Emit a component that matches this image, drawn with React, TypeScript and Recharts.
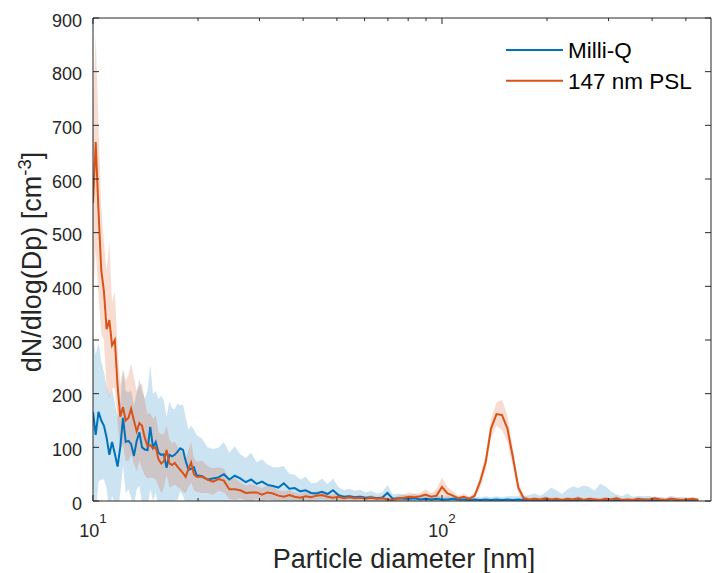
import React from 'react';
import { ComposedChart, Area, Line, XAxis, YAxis } from 'recharts';

// Particle diameter bins [nm]
const diameters = [
  10.0, 10.18, 10.37, 10.56, 10.75, 10.94, 11.14, 11.34, 11.55, 11.76,
  11.97, 12.19, 12.41, 12.64, 12.86, 13.1, 13.34, 13.58, 13.82, 14.07,
  14.33, 14.59, 14.86, 15.13, 15.4, 15.68, 15.96, 16.25, 16.55, 16.85,
  17.15, 17.47, 17.78, 18.11, 18.43, 18.77, 19.11, 19.46, 19.81,
  20.54, 21.29, 22.07, 22.88, 23.71, 24.58, 25.48, 26.42, 27.38, 28.39,
  29.43, 30.5, 31.62, 32.78, 33.98, 35.22, 36.52, 37.85, 39.24, 40.67,
  42.17, 43.71, 45.31, 46.97, 48.7, 50.48, 52.33, 54.25, 56.23, 58.29,
  60.43, 62.64, 64.94, 67.32, 69.78, 72.34, 74.99, 77.74, 80.58, 83.54,
  86.6, 89.77, 93.06, 96.47, 100.0, 103.7, 107.5, 111.4, 115.5, 119.7,
  124.1, 128.6, 133.4, 138.2, 143.3, 148.6, 154.0, 159.6, 165.5, 171.5,
  177.8, 184.3, 191.1, 198.1, 205.4, 212.9, 220.7, 228.8, 237.1, 245.8,
  254.8, 264.2, 273.8, 283.9, 294.3, 305.0, 316.2, 327.8, 339.8, 352.2,
  365.2, 378.5, 392.4, 406.7, 421.7, 437.1, 453.1, 469.7, 487.0, 504.8,
  523.3, 542.5,
];

// Milli-Q mean and standard deviation [cm^-3]
const milliQ = [
  166, 123, 166, 150, 140, 118, 86, 110, 88, 64,
  100, 155, 110, 112, 106, 84, 112, 128, 100, 96,
  95, 138, 100, 110, 90, 86, 87, 62, 86, 83,
  86, 92, 98, 95, 75, 58, 60, 63, 48,
  46, 40, 42, 44, 50, 40, 47, 42, 35, 40,
  32, 36, 30, 28, 25, 33, 23, 24, 18, 20,
  15, 14, 17, 13, 20, 11, 8, 9, 7, 8,
  6, 7, 5, 6, 15, 4, 5, 4, 4, 5,
  3, 4, 3, 4, 3, 3, 4, 3, 3, 2,
  3, 2, 3, 2, 3, 2, 3, 2, 3, 2,
  1, 2, 1, 2, 1, 2, 1, 2, 1, 2,
  1, 2, 1, 2, 1, 2, 2, 1, 2, 1,
  2, 3, 2, 1, 2, 1, 3, 2, 2, 1,
  2, 1,
];
const milliQSd = [
  140, 150, 130, 110, 100, 95, 110, 100, 95, 90,
  85, 90, 95, 90, 100, 95, 90, 100, 105, 95,
  110, 115, 100, 95, 100, 110, 100, 95, 100, 90,
  85, 90, 80, 85, 80, 75, 80, 70, 75,
  70, 60, 55, 55, 60, 50, 55, 45, 45, 50,
  40, 42, 38, 35, 38, 32, 28, 25, 22, 25,
  18, 20, 25, 18, 22, 15, 12, 14, 12, 13,
  10, 12, 9, 10, 15, 8, 9, 8, 7, 8,
  6, 7, 6, 7, 5, 6, 5, 6, 5, 6,
  5, 5, 6, 5, 6, 5, 6, 7, 6, 8,
  10, 12, 9, 14, 24, 18, 12, 20, 26, 22,
  28, 24, 18, 30, 26, 16, 10, 8, 12, 7,
  8, 6, 8, 5, 6, 5, 7, 5, 6, 5,
  4, 4,
];

// 147 nm PSL mean and standard deviation [cm^-3]
const psl = [
  555, 669, 540, 430, 390, 320, 337, 290, 300, 215,
  157, 175, 150, 155, 172, 150, 130, 145, 140, 118,
  102, 104, 98, 100, 78, 70, 74, 95, 70, 67,
  71, 64, 58, 52, 45, 60, 72, 50, 45,
  45, 40, 36, 41, 38, 22, 22, 20, 15, 16,
  16, 12, 16, 14, 10, 8, 11, 8, 6, 9,
  7, 10, 11, 8, 6, 8, 5, 7, 5, 6,
  4, 6, 4, 5, 3, 2, 5, 6, 8, 7,
  9, 12, 8, 10, 26, 14, 10, 5, 8, 4,
  10, 36, 72, 135, 162, 160, 135, 82, 25, 5,
  3, 4, 3, 5, 3, 4, 2, 4, 3, 5,
  2, 4, 3, 2, 4, 3, 5, 2, 3, 2,
  4, 2, 3, 5, 3, 2, 4, 3, 2, 3,
  4, 2,
];
const pslSd = [
  180, 200, 160, 120, 90, 110, 145, 80, 90, 70,
  60, 70, 75, 80, 85, 80, 75, 70, 80, 70,
  60, 60, 55, 60, 50, 55, 50, 45, 45, 40,
  40, 38, 35, 35, 30, 35, 38, 30, 28,
  30, 25, 25, 22, 22, 18, 20, 15, 14, 15,
  12, 12, 13, 12, 10, 10, 9, 8, 7, 8,
  7, 8, 8, 7, 6, 6, 5, 5, 5, 5,
  4, 5, 4, 5, 4, 4, 5, 6, 8, 7,
  6, 10, 7, 12, 18, 12, 8, 5, 6, 4,
  6, 12, 15, 18, 22, 28, 25, 18, 12, 5,
  3, 3, 3, 4, 3, 3, 3, 3, 3, 4,
  3, 3, 3, 3, 3, 3, 4, 3, 3, 3,
  3, 3, 3, 4, 3, 3, 3, 3, 3, 3,
  3, 3,
];

const xTicks = [10, 20, 30, 40, 50, 60, 70, 80, 90, 100, 200, 300, 400, 500];
const xMajor: Record<number, string> = { 10: '1', 100: '2' };
const yTicks = [0, 100, 200, 300, 400, 500, 600, 700, 800, 900];
const seriesNames = ['Milli-Q', '147 nm PSL'];

const BLUE = '#0072BD';
const ORANGE = '#D95319';
const AXIS = '#262626';
const FONT = '"Liberation Sans", Arial, Helvetica, sans-serif';

const data = diameters.map((d, k) => ({
  d,
  mq: milliQ[k],
  mqBand: [milliQ[k] - milliQSd[k], milliQ[k] + milliQSd[k]],
  psl: psl[k],
  pslBand: [psl[k] - pslSd[k], psl[k] + pslSd[k]],
}));

const BottomTick = (p: any) => {
  const { x, y, payload } = p;
  const v = payload.value;
  const major = xMajor[v] !== undefined;
  return (
    <g>
      <line x1={x} y1={y} x2={x} y2={y - (major ? 6 : 3)} stroke={AXIS} strokeWidth={1} />
      {major && (
        <text x={x} y={y + 35.5} textAnchor="middle" fontSize={18} fill={AXIS} fontFamily={FONT}>
          <tspan>10</tspan>
          <tspan dy={-14} fontSize={13.5}>{xMajor[v]}</tspan>
        </text>
      )}
    </g>
  );
};

const TopTick = (p: any) => {
  const { x, y, payload } = p;
  const major = xMajor[payload.value] !== undefined;
  return <line x1={x} y1={y} x2={x} y2={y + (major ? 6 : 3)} stroke={AXIS} strokeWidth={1} />;
};

const LeftTick = (p: any) => {
  const { x, y, payload } = p;
  return (
    <g>
      <line x1={x} y1={y} x2={x + 6} y2={y} stroke={AXIS} strokeWidth={1} />
      <text x={x - 11} y={y + 8.5} textAnchor="end" fontSize={18} fill={AXIS} fontFamily={FONT}>
        {payload.value}
      </text>
    </g>
  );
};

const RightTick = (p: any) => {
  const { x, y } = p;
  return <line x1={x} y1={y} x2={x - 6} y2={y} stroke={AXIS} strokeWidth={1} />;
};

export default function App() {
  return (
    <div
      style={{
        position: 'fixed',
        left: 0,
        top: 0,
        width: 712,
        height: 573,
        background: '#fff',
        overflow: 'hidden',
      }}
    >
      <ComposedChart width={712} height={573} data={data} margin={{ top: 17, right: 0, bottom: 0, left: 0 }}>
        <XAxis
          xAxisId="b"
          dataKey="d"
          type="number"
          scale="log"
          domain={[10, 590]}
          allowDataOverflow
          ticks={xTicks}
          interval={0}
          height={72}
          tickSize={0}
          tickMargin={0}
          tickLine={false}
          axisLine={{ stroke: AXIS, strokeWidth: 1 }}
          tick={BottomTick}
        />
        <XAxis
          xAxisId="t"
          orientation="top"
          dataKey="d"
          type="number"
          scale="log"
          domain={[10, 590]}
          allowDataOverflow
          ticks={xTicks}
          interval={0}
          height={1}
          tickSize={0}
          tickMargin={0}
          tickLine={false}
          axisLine={{ stroke: AXIS, strokeWidth: 1 }}
          tick={TopTick}
        />
        <YAxis
          yAxisId="l"
          type="number"
          domain={[0, 900]}
          allowDataOverflow
          ticks={yTicks}
          interval={0}
          width={93}
          tickSize={0}
          tickMargin={0}
          tickLine={false}
          axisLine={{ stroke: AXIS, strokeWidth: 1 }}
          tick={LeftTick}
        />
        <YAxis
          yAxisId="r"
          orientation="right"
          type="number"
          domain={[0, 900]}
          allowDataOverflow
          ticks={yTicks}
          interval={0}
          width={1}
          tickSize={0}
          tickMargin={0}
          tickLine={false}
          axisLine={{ stroke: AXIS, strokeWidth: 1 }}
          tick={RightTick}
        />
        <Area
          xAxisId="b"
          yAxisId="l"
          type="linear"
          dataKey="mqBand"
          stroke="none"
          fill={BLUE}
          fillOpacity={0.2}
          dot={false}
          activeDot={false}
          isAnimationActive={false}
        />
        <Line
          xAxisId="b"
          yAxisId="l"
          type="linear"
          dataKey="mq"
          stroke={BLUE}
          strokeWidth={2}
          dot={false}
          activeDot={false}
          isAnimationActive={false}
        />
        <Area
          xAxisId="b"
          yAxisId="l"
          type="linear"
          dataKey="pslBand"
          stroke="none"
          fill={ORANGE}
          fillOpacity={0.2}
          dot={false}
          activeDot={false}
          isAnimationActive={false}
        />
        <Line
          xAxisId="b"
          yAxisId="l"
          type="linear"
          dataKey="psl"
          stroke={ORANGE}
          strokeWidth={2}
          dot={false}
          activeDot={false}
          isAnimationActive={false}
        />
      </ComposedChart>
      <svg
        width={712}
        height={573}
        style={{ position: 'absolute', left: 0, top: 0, pointerEvents: 'none' }}
        fontFamily={FONT}
      >
        <text x={404} y={568} textAnchor="middle" fontSize={27} fill={AXIS}>
          Particle diameter [nm]
        </text>
        <text transform="translate(41,262) rotate(-90)" textAnchor="middle" fontSize={27} fill={AXIS}>
          <tspan>dN/dlog(Dp) [cm</tspan>
          <tspan dy={-10} fontSize={18.5}>-3</tspan>
          <tspan dy={10}>]</tspan>
        </text>
        <line x1={506} y1={50} x2={563} y2={50} stroke={BLUE} strokeWidth={2} />
        <text x={568} y={58} fontSize={22.5} fill="#000">
          {seriesNames[0]}
        </text>
        <line x1={506} y1={80.7} x2={563} y2={80.7} stroke={ORANGE} strokeWidth={2} />
        <text x={568} y={88.7} fontSize={22.5} fill="#000">
          {seriesNames[1]}
        </text>
      </svg>
    </div>
  );
}
